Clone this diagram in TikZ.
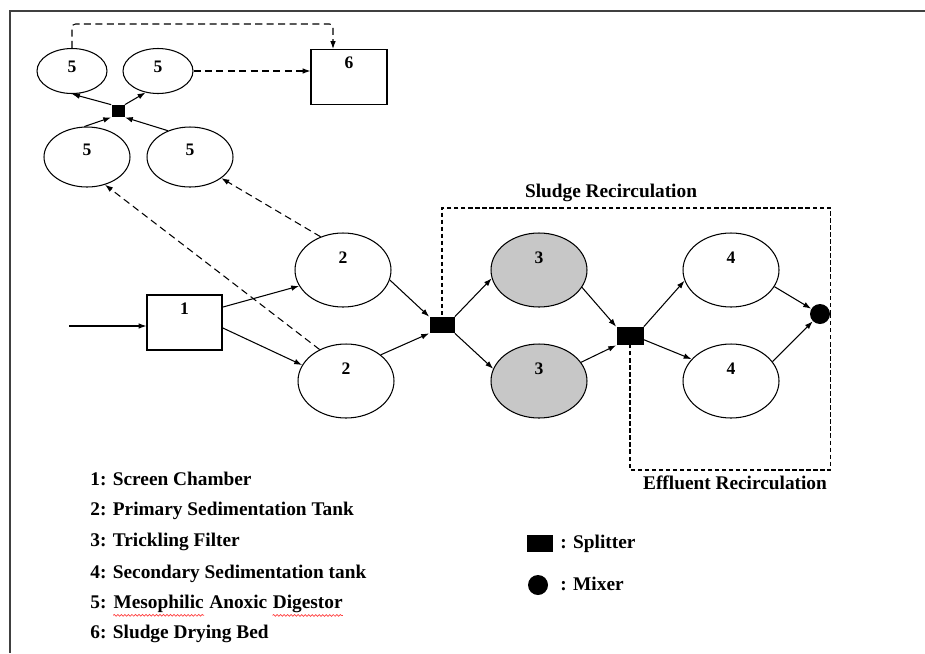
\documentclass[tikz,border=0pt]{standalone}
\usepackage{fontspec}
\setmainfont{Liberation Serif}
\usetikzlibrary{shapes,arrows.meta,decorations.pathmorphing}
\newcommand{\squig}[1]{\tikz[baseline=(w.base)]{\node[inner sep=0pt] (w) {#1};
	\draw[red!75, line width=0.4pt, decorate, decoration={snake, amplitude=0.5pt, segment length=2pt}] ([yshift=-1.6pt]w.south west)--([yshift=-1.6pt]w.south east);}}

\tikzset{
	tank/.style={draw, ellipse, line width=0.6pt, inner sep=0pt, minimum width=1.92cm, minimum height=1.48cm},
	filter/.style={tank, fill=black!22},
	digester/.style={draw, ellipse, line width=0.6pt, inner sep=0pt, minimum width=1.72cm, minimum height=1.2cm},
	smalldig/.style={digester, minimum width=1.4cm, minimum height=0.9cm},
	unitbox/.style={draw, rectangle, line width=0.6pt, inner sep=0pt, minimum width=1.5cm, minimum height=1.1cm},
	splitter/.style={fill=black, rectangle, inner sep=0pt, minimum width=0.5cm, minimum height=0.32cm},
	mixer/.style={fill=black, circle, inner sep=0pt, minimum size=0.4cm},
	flow/.style={line width=0.6pt, -{Latex[length=4.5pt,width=3.2pt]}},
	sludge/.style={flow, dash pattern=on 4pt off 2.5pt},
	recirc/.style={line width=0.8pt, dash pattern=on 2.5pt off 1.5pt},
	num/.style={font=\bfseries\fontsize{10}{11}\selectfont},
	tag/.style={font=\bfseries\fontsize{11}{13}\selectfont, inner sep=0pt}
}

\begin{document}
\begin{tikzpicture}[x=0.02cm, y=-0.02cm]
\useasboundingbox (0,0) rectangle (925,653);
\draw[black!75, line width=1.1pt] (925,11)--(10,11)--(10,653);

% sludge line
\node[smalldig, label={[num,yshift=2.5pt]center:5}] (s5a) at (72,71) {};
\node[smalldig, label={[num,yshift=2.5pt]center:5}] (s5b) at (158,71) {};
\node[splitter, minimum width=0.26cm, minimum height=0.24cm] (sp0) at (118,111) {};
\node[digester, label={[num,yshift=4pt]center:5}] (b5a) at (87,157) {};
\node[digester, label={[num,yshift=4pt]center:5}] (b5b) at (190,157) {};
\node[unitbox, minimum width=1.52cm, label={[num,yshift=8pt]center:6}] (b6) at (349,77) {};
\coordinate (top) at (0,24);

% water line
\coordinate (in) at (69,326);
\node[unitbox, label={[num,yshift=8pt]center:1}] (b1) at (184.5,322.5) {};
\node[tank, label={[num,yshift=7pt]center:2}] (t2a) at (343,270) {};
\node[tank, label={[num,yshift=7pt]center:2}] (t2b) at (346,381) {};
\node[splitter] (sp1) at (442,325) {};
\node[filter, label={[num,yshift=7pt]center:3}] (t3a) at (539,270) {};
\node[filter, label={[num,yshift=7pt]center:3}] (t3b) at (539,381) {};
\node[splitter, minimum width=0.54cm, minimum height=0.36cm] (sp2) at (630,336) {};
\node[tank, label={[num,yshift=7pt]center:4}] (t4a) at (731,270) {};
\node[tank, label={[num,yshift=7pt]center:4}] (t4b) at (731,381) {};
\node[mixer] (mix) at (820,314) {};
\coordinate (srtop) at (0,208);
\coordinate (erbot) at (0,470);

\draw[flow] (in)--(in -| b1.west);
\draw[flow] (b1.22)--(t2a.200);
\draw[flow] (b1.-8)--(t2b.160);
\draw[flow] (t2a.-12)--(sp1.north west);
\draw[flow] (t2b.37)--(sp1.south west);
\draw[flow] (sp1.north east)--(t3a.190);
\draw[flow] (sp1.south east)--(t3b.165);
\draw[flow] (t3a.-22)--(sp2.north west);
\draw[flow] (t3b.24)--(sp2.south west);
\draw[flow] (sp2.north east)--(t4a.193);
\draw[flow] (sp2.-15)--(t4b.151);
\draw[flow] (t4a.-21)--(mix);
\draw[flow] (t4b.25)--(mix);

\draw[recirc] (mix.east)--(mix.east |- srtop) -| (sp1.north);
\draw[recirc] (mix.east)--(mix.east |- erbot) -| (sp2.south);
\node[tag] (srlab) at (611,193) {Sludge Recirculation};
\node[tag] (erlab) at (735,483) {Effluent Recirculation};

\draw[flow] (sp0.north west)--(s5a.south);
\draw[flow] (sp0.north east)--(s5b.240);
\draw[flow] (b5a.95)--(sp0.south west);
\draw[flow] (b5b.130)--(sp0.south east);
\draw[sludge, rounded corners=2pt] (s5a.north)--(s5a.north |- top) -| ([xshift=-0.32cm]b6.north);
\draw[sludge] (s5b.east)--(s5b.east -| b6.west);
\draw[sludge] (t2a.124)--(b5b.-34);
\draw[sludge] (t2b.130)--(b5a.-57);

% legend
\node[tag, anchor=base west] (leg1) at (90,485) {1: Screen Chamber};
\node[tag, anchor=base west] (leg2) at (90,515) {2: Primary Sedimentation Tank};
\node[tag, anchor=base west] (leg3) at (90,546) {3: Trickling Filter};
\node[tag, anchor=base west] (leg4) at (90,578) {4: Secondary Sedimentation tank};
\node[tag, anchor=base west] (leg5) at (90,608) {5: \squig{Mesophilic} Anoxic \squig{Digestor}};
\node[tag, anchor=base west] (leg6) at (90,638) {6: Sludge Drying Bed};
\node[splitter, minimum width=0.52cm, minimum height=0.34cm] (lsp) at (540,543) {};
\node[mixer] (lmx) at (538,585) {};
\node[tag, anchor=base west] (lsptxt) at (560,548) {: Splitter};
\node[tag, anchor=base west] (lmxtxt) at (560,590) {: Mixer};

\end{tikzpicture}
\end{document}
